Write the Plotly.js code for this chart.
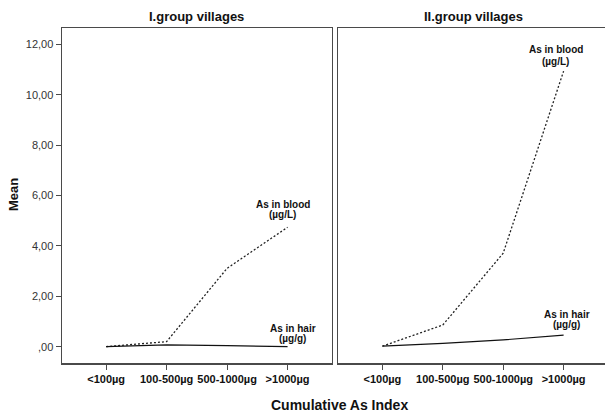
<!DOCTYPE html>
<html><head><meta charset="utf-8">
<script src="https://cdn.plot.ly/plotly-3.0.1.min.js"></script>
<style>html,body{margin:0;padding:0;overflow:hidden;background:#fff}</style>
</head><body>
<div id="chart" style="width:608px;height:414px"></div>
<script>
const categories = ["<100µg", "100-500µg", "500-1000µg", ">1000µg"];
const blood1 = [0.0, 0.20, 3.11, 4.74];
const hair1 = [0.0, 0.07, 0.04, 0.0];
const blood2 = [0.02, 0.86, 3.71, 10.94];
const hair2 = [0.02, 0.13, 0.27, 0.46];
const yTickVals = [0, 2, 4, 6, 8, 10, 12];
const yTickText = [",00", "2,00", "4,00", "6,00", "8,00", "10,00", "12,00"];
const panelTitles = ["I.group villages", "II.group villages"];
const seriesNames = ["As in blood", "As in hair"];
const seriesUnits = ["(µg/L)", "(µg/g)"];

const W = 608, H = 414;
const px = v => v / W, py = v => 1 - v / H;
const lineCol = '#4a4a4a';
const FONT = 'Liberation Sans, Arial, sans-serif';
const blood = {color: '#222', width: 1.3, dash: '2px,2px'};
const hair = {color: '#111', width: 1.1};

const traces = [
  {x: categories, y: blood1, xaxis: 'x', yaxis: 'y', mode: 'lines', line: blood, name: 'blood'},
  {x: categories, y: hair1, xaxis: 'x', yaxis: 'y', mode: 'lines', line: hair, name: 'hair'},
  {x: categories, y: blood2, xaxis: 'x2', yaxis: 'y2', mode: 'lines', line: blood, name: 'blood'},
  {x: categories, y: hair2, xaxis: 'x2', yaxis: 'y2', mode: 'lines', line: hair, name: 'hair'}
];

const xbase = {
  type: 'category', categoryorder: 'array', categoryarray: categories,
  range: [-0.73, 3.73], showline: true, mirror: true, linecolor: lineCol, linewidth: 1.5,
  ticks: 'outside', ticklen: 5, tickcolor: lineCol, tickwidth: 1,
  tickvals: categories, ticktext: categories.map(c => '<b>' + c + '</b>'),
  tickfont: {family: FONT, size: 11, color: '#111'},
  showgrid: false, zeroline: false, fixedrange: true
};
const ydom = [1 - 363.3 / H, 1 - 28 / H];
const ybase = {
  range: [-0.66, 12.65], domain: ydom, showline: true, mirror: true, linecolor: lineCol, linewidth: 1.5,
  showgrid: false, zeroline: false, fixedrange: true
};

function label(text, xr, yr, yv, xs, ys) {
  return {text: '<b>' + text + '</b>', xref: xr, yref: yr, x: 3, y: yv, showarrow: false,
    xshift: xs, yshift: ys, xanchor: 'center', yanchor: 'middle', font: {size: 10, color: '#111'}};
}

const layout = {
  width: W, height: H, margin: {l: 0, r: 0, t: 0, b: 0},
  paper_bgcolor: '#fff', plot_bgcolor: '#fff', showlegend: false,
  font: {family: FONT},
  xaxis: Object.assign({}, xbase, {domain: [px(62), px(331.7)], anchor: 'y'}),
  xaxis2: Object.assign({}, xbase, {domain: [px(338.3), px(607.7)], anchor: 'y2'}),
  yaxis: Object.assign({}, ybase, {anchor: 'x', ticks: 'outside', ticklen: 5, tickcolor: lineCol,
    tickvals: yTickVals, ticktext: yTickText,
    tickfont: {family: FONT, size: 11, color: '#333'}}),
  yaxis2: Object.assign({}, ybase, {anchor: 'x2', ticks: '', showticklabels: false}),
  annotations: [
    {text: '<b>' + panelTitles[0] + '</b>', xref: 'paper', yref: 'paper', x: px(196.9), y: py(17), showarrow: false,
     font: {size: 13, color: '#111'}, xanchor: 'center', yanchor: 'middle'},
    {text: '<b>' + panelTitles[1] + '</b>', xref: 'paper', yref: 'paper', x: px(473), y: py(17), showarrow: false,
     font: {size: 13, color: '#111'}, xanchor: 'center', yanchor: 'middle'},
    {text: '<b>Mean</b>', xref: 'paper', yref: 'paper', x: px(13), y: py(195), showarrow: false, textangle: -90,
     font: {size: 13, color: '#111'}, xanchor: 'center', yanchor: 'middle'},
    {text: '<b>Cumulative As Index</b>', xref: 'paper', yref: 'paper', x: px(339), y: py(405), showarrow: false,
     font: {size: 14, color: '#111'}, xanchor: 'center', yanchor: 'middle'},
    label(seriesNames[0], 'x', 'y', blood1[3], -5, 23),
    label(seriesUnits[0], 'x', 'y', blood1[3], -5, 13),
    label(seriesNames[1], 'x', 'y', hair1[3], 5, 18),
    label(seriesUnits[1], 'x', 'y', hair1[3], 5, 8),
    label(seriesNames[0], 'x2', 'y2', blood2[3], -8, 22),
    label(seriesUnits[0], 'x2', 'y2', blood2[3], -8, 10),
    label(seriesNames[1], 'x2', 'y2', hair2[3], 3, 21),
    label(seriesUnits[1], 'x2', 'y2', hair2[3], 3, 11)
  ]
};

Plotly.newPlot('chart', traces, layout, {displayModeBar: false, staticPlot: true});
</script>
</body></html>
